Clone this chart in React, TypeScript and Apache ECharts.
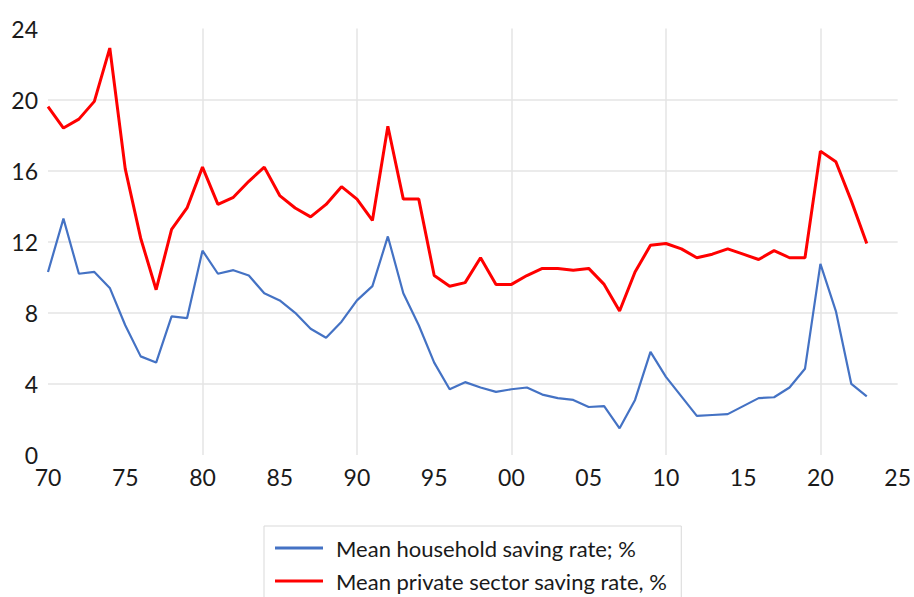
import React, { useEffect, useRef } from "react";
import * as echarts from "echarts";

const years: number[] = [];
for (let y = 1970; y <= 2023; y++) years.push(y);

const householdRate = [
  10.3, 13.3, 10.2, 10.3, 9.4, 7.3, 5.55, 5.2, 7.8, 7.7,
  11.5, 10.2, 10.4, 10.1, 9.1, 8.7, 8.0, 7.1, 6.6, 7.5,
  8.7, 9.5, 12.3, 9.1, 7.3, 5.2, 3.7, 4.1, 3.8, 3.55,
  3.7, 3.8, 3.4, 3.2, 3.1, 2.7, 2.75, 1.5, 3.1, 5.8,
  4.4, 3.3, 2.2, 2.25, 2.3, 2.75, 3.2, 3.25, 3.8, 4.85,
  10.75, 8.1, 4.0, 3.3,
];

const privateRate = [
  19.6, 18.4, 18.9, 19.9, 22.9, 16.1, 12.2, 9.3, 12.7, 13.9,
  16.2, 14.1, 14.5, 15.4, 16.2, 14.6, 13.9, 13.4, 14.1, 15.1,
  14.4, 13.2, 18.5, 14.4, 14.4, 10.1, 9.5, 9.7, 11.1, 9.6,
  9.6, 10.1, 10.5, 10.5, 10.4, 10.5, 9.6, 8.1, 10.3, 11.8,
  11.9, 11.6, 11.1, 11.3, 11.6, 11.3, 11.0, 11.5, 11.1, 11.1,
  17.1, 16.5, 14.3, 11.9,
];

const verticalGridYears = [1980, 1990, 2000, 2010, 2020];
const seriesNames = ["Mean household saving rate; %", "Mean private sector saving rate, %"];

export default function App() {
  const ref = useRef<HTMLDivElement>(null);
  useEffect(() => {
    if (!ref.current) return;
    const chart = echarts.init(ref.current, undefined, { renderer: "svg" });
    const font = "Lato, 'Open Sans', sans-serif";
    chart.setOption({
      animation: false,
      backgroundColor: "#ffffff",
      grid: { left: 48, right: 15, top: 28.5, bottom: 142 },
      xAxis: {
        type: "value",
        min: 1970,
        max: 2025,
        interval: 5,
        axisLine: { show: false },
        axisTick: { show: false },
        splitLine: { show: false },
        axisLabel: {
          margin: 10,
          color: "#1a1a1a",
          fontFamily: font,
          fontSize: 23,
          formatter: (v: number) => String(v % 100).padStart(2, "0"),
        },
      },
      yAxis: {
        type: "value",
        min: 0,
        max: 24,
        interval: 4,
        axisLine: { show: false },
        axisTick: { show: false },
        splitLine: {
          show: true,
          showMinLine: false,
          showMaxLine: false,
          lineStyle: { color: "#e4e4e4", width: 1.5 },
        },
        axisLabel: {
          margin: 10,
          color: "#1a1a1a",
          fontFamily: font,
          fontSize: 23,
        },
      },
      legend: {
        orient: "vertical",
        left: 264,
        top: 526,
        height: 120,
        padding: [11, 14, 14, 11],
        itemGap: 11,
        itemWidth: 48,
        itemHeight: 3,
        borderColor: "#d9d9d9",
        borderWidth: 1,
        data: [
          { name: seriesNames[0], icon: "rect", itemStyle: { color: "#4472C4" } },
          { name: seriesNames[1], icon: "rect", itemStyle: { color: "#FF0000" } },
        ],
        textStyle: {
          fontFamily: font,
          fontSize: 22,
          color: "#1a1a1a",
          padding: [0, 0, 0, 8],
        },
      },
      series: [
        {
          name: seriesNames[0],
          type: "line",
          data: years.map((y, i) => [y, householdRate[i]]),
          symbol: "none",
          lineStyle: { color: "#4472C4", width: 2.2 },
          itemStyle: { color: "#4472C4" },
          z: 3,
          markLine: {
            silent: true,
            symbol: "none",
            label: { show: false },
            lineStyle: { color: "#e4e4e4", width: 1.5, type: "solid" },
            data: verticalGridYears.map((y) => ({ xAxis: y })),
            z: 1,
          },
        },
        {
          name: seriesNames[1],
          type: "line",
          data: years.map((y, i) => [y, privateRate[i]]),
          symbol: "none",
          lineStyle: { color: "#FF0000", width: 3 },
          itemStyle: { color: "#FF0000" },
          z: 4,
        },
      ],
    });
    return () => chart.dispose();
  }, []);
  return (
    <div
      ref={ref}
      style={{ position: "fixed", left: 0, top: 0, width: 914, height: 597 }}
    />
  );
}
